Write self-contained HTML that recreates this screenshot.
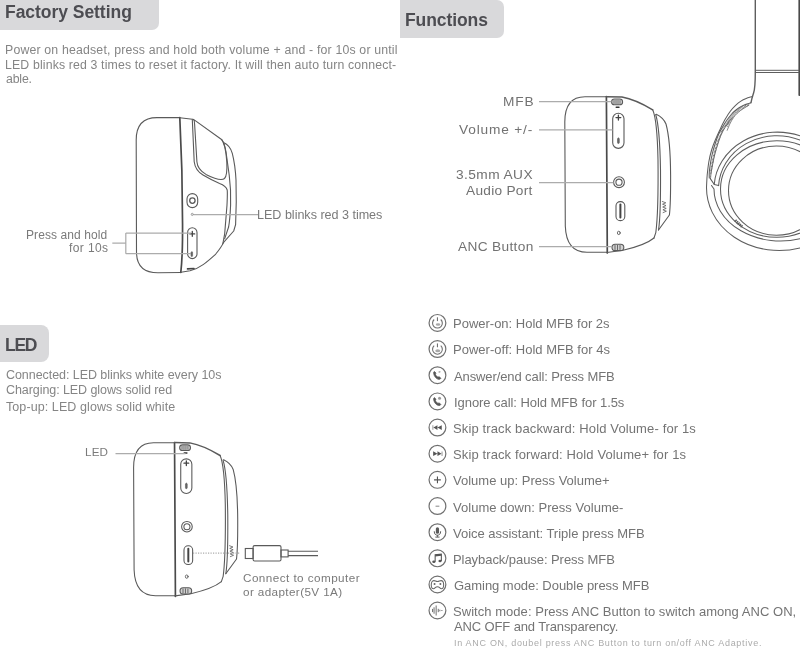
<!DOCTYPE html>
<html><head><meta charset="utf-8">
<style>
html,body{margin:0;padding:0;background:#fff;}
body{width:800px;height:662px;position:relative;overflow:hidden;font-family:"Liberation Sans",sans-serif;-webkit-font-smoothing:antialiased;}
.t,.hdt{will-change:transform;}
.t{position:absolute;white-space:nowrap;line-height:1;}
.hd{position:absolute;background:#d9d9db;}
.hdt{position:absolute;white-space:nowrap;line-height:1;font-weight:bold;font-size:17.5px;color:#4d4d52;}
.p{font-size:12px;color:#7c7c7c;}
.lb{font-size:12px;color:#6a6a6a;}
.lb13{font-size:13px;color:#6a6a6a;}
.fn{font-size:13px;color:#727272;}
svg{position:absolute;left:0;top:0;}
</style></head><body>
<!-- headers -->
<div class="hd" style="left:0;top:0;width:158.5px;height:29.5px;border-bottom-right-radius:7px;"></div>
<div class="hdt" style="left:5px;top:4.2px;letter-spacing:-0.04px;">Factory Setting</div>
<div class="hd" style="left:400px;top:0;width:104px;height:38px;border-radius:0 7px 7px 0;"></div>
<div class="hdt" style="left:405px;top:11.9px;letter-spacing:-0.09px;">Functions</div>
<div class="hd" style="left:0;top:325px;width:49px;height:37px;border-radius:0 8px 8px 0;"></div>
<div class="hdt" style="left:5px;top:336.7px;letter-spacing:-1.3px;">LED</div>

<div class="t" style="left:5.0px;top:43.5px;font-size:12.3px;letter-spacing:0.178px;color:#858585">Power on headset, press and hold both volume + and - for 10s or until</div>
<div class="t" style="left:5.0px;top:58.5px;font-size:12.3px;letter-spacing:0.145px;color:#858585">LED blinks red 3 times to reset it factory. It will then auto turn connect-</div>
<div class="t" style="left:5.5px;top:73.4px;font-size:12.3px;letter-spacing:-0.175px;color:#858585">able.</div>
<div class="t" style="left:5.6px;top:368.5px;font-size:12.5px;letter-spacing:-0.057px;color:#858585">Connected: LED blinks white every 10s</div>
<div class="t" style="left:5.6px;top:384.4px;font-size:12.5px;letter-spacing:-0.073px;color:#858585">Charging: LED glows solid red</div>
<div class="t" style="left:5.6px;top:400.8px;font-size:12.5px;letter-spacing:0.086px;color:#858585">Top-up: LED glows solid white</div>
<div class="t" style="left:25.9px;top:228.7px;font-size:12px;letter-spacing:0.092px;color:#7a7a7a">Press and hold</div>
<div class="t" style="left:69px;top:242.2px;font-size:12px;letter-spacing:0.4px;color:#7a7a7a">for 10s</div>
<div class="t" style="left:257.3px;top:209.0px;font-size:12.6px;letter-spacing:-0.029px;color:#7a7a7a">LED blinks red 3 times</div>
<div class="t" style="left:502.75px;top:95.0px;font-size:13.7px;letter-spacing:0.875px;color:#727272">MFB</div>
<div class="t" style="left:458.8px;top:122.9px;font-size:13.7px;letter-spacing:0.833px;color:#727272">Volume +/-</div>
<div class="t" style="left:456.2px;top:168.0px;font-size:13.7px;letter-spacing:0.438px;color:#727272">3.5mm AUX</div>
<div class="t" style="left:465.9px;top:183.5px;font-size:13.7px;letter-spacing:0.267px;color:#727272">Audio Port</div>
<div class="t" style="left:457.7px;top:240.2px;font-size:13.7px;letter-spacing:0.333px;color:#727272">ANC Button</div>
<div class="t" style="left:84.7px;top:445.7px;font-size:11.7px;letter-spacing:0.15px;color:#7a7a7a">LED</div>
<div class="t" style="left:243.3px;top:572.4px;font-size:11.7px;letter-spacing:0.45px;color:#7a7a7a">Connect to computer</div>
<div class="t" style="left:243.3px;top:585.7px;font-size:11.7px;letter-spacing:0.387px;color:#7a7a7a">or adapter(5V 1A)</div>
<div class="t" style="left:453.1px;top:316.85px;font-size:13px;letter-spacing:-0.008px;color:#747474">Power-on: Hold MFB for 2s</div>
<div class="t" style="left:453.1px;top:343.1px;font-size:13px;letter-spacing:0.016px;color:#747474">Power-off: Hold MFB for 4s</div>
<div class="t" style="left:453.6px;top:369.6px;font-size:13px;letter-spacing:-0.104px;color:#747474">Answer/end call: Press MFB</div>
<div class="t" style="left:453.5px;top:395.5px;font-size:13px;letter-spacing:-0.055px;color:#747474">Ignore call: Hold MFB for 1.5s</div>
<div class="t" style="left:453.1px;top:421.85px;font-size:13px;letter-spacing:0.131px;color:#747474">Skip track backward: Hold Volume- for 1s</div>
<div class="t" style="left:453.1px;top:448.05px;font-size:13px;letter-spacing:0.113px;color:#747474">Skip track forward: Hold Volume+ for 1s</div>
<div class="t" style="left:453.1px;top:474.4px;font-size:13px;letter-spacing:0.009px;color:#747474">Volume up: Press Volume+</div>
<div class="t" style="left:453.1px;top:500.6px;font-size:13px;letter-spacing:0.02px;color:#747474">Volume down: Press Volume-</div>
<div class="t" style="left:453.1px;top:526.9px;font-size:13px;letter-spacing:-0.016px;color:#747474">Voice assistant: Triple press MFB</div>
<div class="t" style="left:453.1px;top:553.05px;font-size:13px;letter-spacing:-0.062px;color:#747474">Playback/pause: Press MFB</div>
<div class="t" style="left:454.1px;top:579.35px;font-size:13px;letter-spacing:-0.039px;color:#747474">Gaming mode: Double press MFB</div>
<div class="t" style="left:453.1px;top:604.7px;font-size:13px;letter-spacing:0.042px;color:#747474">Switch mode: Press ANC Button to switch among ANC ON,</div>
<div class="t" style="left:453.6px;top:620.25px;font-size:13px;letter-spacing:-0.125px;color:#747474">ANC OFF and Transparency.</div>
<div class="t" style="left:453.6px;top:638.6px;font-size:9px;letter-spacing:0.7px;color:#ababab">In ANC ON, doubel press ANC Button to turn on/off ANC Adaptive.</div>

<svg width="800" height="662" viewBox="0 0 800 662">
<defs>
<g id="cup" fill="none" stroke="#5a5a5a" stroke-width="1.1" stroke-linecap="round" stroke-linejoin="round">
 <path d="M606.5 96.8 H585 C572 96.8 564.8 105 564.8 122 L565.3 226 C565.9 244 573 252.3 587 252.3 H606.8"/>
 <path d="M606.4 96.6 L607.3 253" stroke-width="1.7" stroke="#4a4a4a"/>
 <path d="M606.5 96.7 L622 97 C633 99 643 104 652.7 109.8" stroke-width="1.5"/>
 <path d="M652.7 109.8 C655.5 116 657.5 135 658 160 C658.3 190 657.5 220 655.8 232.6 L654 238"/>
 <path d="M655.7 114.5 C658 122 660 140 660.5 170 C660.7 200 660.2 220 658.5 230"/>
 <path d="M656.3 114.2 C660 116 664 119 666 124 C669 135 670.5 155 670.6 175 C670.7 195 670 210 669.4 215 L658.5 230"/>
 <path d="M607 252.5 L623 250.3 C635 247.5 648 243 654 238"/>
 <rect x="611.6" y="99" width="11" height="5.8" rx="2.9" fill="#d2d2d2"/>
 <path d="M614 100.5 V103.5 M616 100.3 V103.8 M618 100.3 V103.8 M620 100.5 V103.5" stroke-width="0.8"/>
 <path d="M616.2 107.3 H619" stroke-width="1.4" stroke="#333"/>
 <rect x="612.7" y="113.2" width="11.3" height="35.2" rx="5.6"/>
 <path d="M618.4 115.2 V120 M616 117.6 H620.8" stroke-width="1.3" stroke="#444"/>
 <rect x="617.5" y="138" width="1.8" height="5.5" rx="0.9" fill="#666" stroke-width="0.6"/>
 <circle cx="619" cy="182.2" r="5.4"/>
 <circle cx="619" cy="182.2" r="3.1"/>
 <rect x="616" y="201.6" width="8.8" height="19" rx="4.2"/>
 <path d="M620.4 204.5 V217.5" stroke-width="2" stroke="#444"/>
 <ellipse cx="618.8" cy="232.9" rx="1.4" ry="1.7" stroke-width="0.9"/>
 <rect x="612" y="244.2" width="11.8" height="6.4" rx="3.1" fill="#d2d2d2"/>
 <path d="M615 245.5 V249.5 M617.5 245.3 V249.8 M620 245.5 V249.5" stroke-width="0.9"/>
 <path d="M662.3 201.5 L665.8 202.8 L662.5 204.2 L666 205.6 L662.7 207 L666.2 208.4 L662.9 209.8 L666.4 211.2 L663.1 212.6" stroke-width="0.8"/>
</g>
</defs>

<!-- Functions earcup -->
<use href="#cup"/>
<!-- LED earcup -->
<use href="#cup" transform="matrix(0.984 0 0 0.984 -422.16 347.45)"/>

<!-- Factory earcup -->
<g fill="none" stroke="#5a5a5a" stroke-width="1.1" stroke-linecap="round" stroke-linejoin="round">
 <path d="M179.8 117.6 L157 117.6 C144 117.6 136.2 124 136.2 140 L136.5 252 C136.5 266 143 272.8 158 272.8 L181 272.5"/>
 <path d="M179.8 117.6 C181.5 150 182.8 200 182.5 240 C182.3 258 181.5 266 180.8 272.5" stroke-width="1.7" stroke="#4a4a4a"/>
 <path d="M179.8 117.8 L192.5 119.2"/>
 <path d="M193.5 119.4 L221.2 139.2 C224 142 226 150 226.8 162 C227.3 172 227 176 224.5 178.5 C222 180.5 215 179 206 174.4 C199.5 170.5 197.2 166 196.9 161.7 L194.6 124 C194.5 121 194 120 193.5 119.4 Z"/>
 <path d="M192.3 119.4 L194.2 161.7 C195 168 198.5 172.3 203 175 C208 178 214 181 219.6 183.4 C223.5 184.8 226.2 186.5 227.2 190 C227.6 193 227.3 198 227 205 L224.7 233.6 L222.8 244"/>
 <path d="M221.7 139.5 C224 142 225 146 226 152 L229.2 175 C230.5 185 231 195 230.6 205 C230.2 215 229.5 222 228.6 227 L224.7 238.7"/>
 <path d="M223.5 142.5 C227 144 230.5 147 232.3 153.3 C234 160 235.5 170 236 180 C236.5 195 236.3 210 235.6 224.6 L233.7 231 L223.4 242.6"/>
 <path d="M181 272.3 L190 270.8 C200 268.5 208 261 215.7 254.1 C219 250 221.5 247 223.4 242.6"/>
 <rect x="187" y="193.6" width="10.7" height="14" rx="5.35"/>
 <circle cx="192.4" cy="200.6" r="2.7" stroke-width="1.3"/>
 <circle cx="192.3" cy="214.4" r="1.1" stroke-width="0.8" stroke="#888"/>
 <rect x="187.6" y="227.8" width="9.4" height="30.8" rx="4.7"/>
 <path d="M192.3 231.5 V236.3 M189.9 233.9 H194.7" stroke-width="1.3" stroke="#444"/>
 <rect x="191" y="251.8" width="1.6" height="4.8" rx="0.8" fill="#666" stroke-width="0.6"/>
 <path d="M187.5 268.9 L194 268.5" stroke-width="1.6" stroke="#444"/>
</g>
<!-- Factory callouts -->
<g fill="none" stroke="#acacac" stroke-width="1.25">
 <path d="M193.5 214.6 H258"/>
 <path d="M112.3 243 H125.8 M125.8 233 V253.8 M125.8 233 H191 M125.8 253.5 H191"/>
</g>
<!-- Functions callouts -->
<g fill="none" stroke="#acacac" stroke-width="1.25">
 <path d="M539 101.5 H611.5"/>
 <path d="M539 129.8 H612.5"/>
 <path d="M539 182.5 H613.5"/>
 <path d="M539 246.7 H612"/>
</g>
<!-- LED callouts -->
<g fill="none" stroke="#acacac" stroke-width="1.25">
 <path d="M115.5 453.6 H185.5"/>
 <path d="M193 553.2 H240.5" stroke-dasharray="1.2 1.3"/>
</g>
<!-- USB cable -->
<g fill="none" stroke="#5a5a5a" stroke-width="1.1">
 <rect x="245.3" y="548.5" width="7.8" height="10"/>
 <rect x="253.1" y="545.6" width="27.9" height="15.4" rx="1.5"/>
 <rect x="281" y="550" width="7.1" height="6.9"/>
 <path d="M288 551.3 H318 M288 555.6 H318"/>
</g>

<!-- Big headphone -->
<g fill="none" stroke="#5e5e5e" stroke-width="1.05" stroke-linecap="round" stroke-linejoin="round">
 <path d="M755.3 0 V72 C755.3 84 754.6 90 753.6 93 C753 95 752 97 751 102.7" stroke-width="1.4"/>
 <path d="M799.3 0 V95" stroke-width="1.8" stroke="#4a4a4a"/>
 <path d="M755.3 70.3 H799 M755.3 72.5 H799" stroke-width="1"/>
 <path d="M752.5 96.4 C751.5 96.8 748.1 97.7 746.2 98.5 C744.3 99.3 742.7 100.0 740.9 101.1 C739.1 102.2 737.4 103.6 735.6 105.3 C733.8 107.0 732.1 108.8 730.3 111.2 C728.5 113.6 726.8 116.5 725.0 119.6 C723.2 122.7 721.4 126.6 719.8 130.0 C718.2 133.4 716.7 136.7 715.3 140.0 C713.9 143.3 712.7 146.3 711.6 150.0 C710.5 153.7 709.5 157.8 708.8 162.0 C708.1 166.2 707.6 171.2 707.2 175.0 C706.8 178.8 706.7 183.3 706.6 185.0 A72.7 62.5 0 0 0 800 247.9"/>
 <path d="M750.8 102.7 C750.0 103.0 747.7 103.6 746.0 104.3 C744.3 105.0 742.5 105.8 740.8 106.7 C739.1 107.7 737.5 108.8 736.0 110.0 C734.5 111.2 733.2 112.3 731.7 114.0 C730.2 115.7 728.5 117.9 727.0 120.0 C725.5 122.1 724.1 124.3 722.7 126.7 C721.3 129.1 719.7 131.8 718.5 134.5 C717.3 137.2 716.4 139.9 715.4 143.0 C714.4 146.1 713.3 149.7 712.5 153.0 C711.7 156.3 711.0 159.8 710.5 163.0 C710.0 166.2 709.5 169.5 709.3 172.0 C709.1 174.5 709.3 177.0 709.3 178.0"/>
 <path d="M749.0 105.0 C748.3 105.4 746.4 106.7 745.0 107.6 C743.6 108.5 742.1 109.3 740.8 110.3 C739.5 111.3 738.2 112.3 737.0 113.5 C735.8 114.7 734.6 116.0 733.5 117.6 C732.4 119.2 731.3 120.9 730.3 123.0 C729.2 125.1 727.7 129.1 727.2 130.3" stroke-width="0.9" stroke="#777"/>
 <path d="M733.0 117.5 C732.3 118.2 730.3 120.0 729.0 121.7 C727.7 123.4 726.3 125.3 725.0 127.5 C723.7 129.7 722.2 132.1 721.0 134.8 C719.8 137.5 719.0 140.4 718.0 143.5 C717.0 146.6 715.9 150.2 715.0 153.5 C714.1 156.8 713.4 160.4 712.8 163.5 C712.2 166.6 711.6 169.5 711.2 172.0 C710.8 174.5 710.6 177.5 710.5 178.6" stroke-width="0.9"/>
 <path d="M748.5 104.4 C747.8 104.8 745.3 105.9 744.0 106.6 C742.7 107.3 742.0 107.6 740.8 108.5 C739.5 109.4 737.9 110.5 736.5 111.8 C735.1 113.0 733.8 114.5 732.5 116.0 C731.2 117.5 730.0 119.2 729.0 121.0 C728.0 122.8 726.7 125.6 726.2 126.5" stroke-width="2.8" stroke="#666" stroke-dasharray="0.7 0.7" stroke-linecap="butt"/>
 <path d="M726.0 124.0 C725.4 125.1 723.6 128.2 722.5 130.5 C721.4 132.8 720.6 135.1 719.6 137.5 C718.6 139.9 717.7 142.1 716.8 145.0 C715.9 147.9 714.8 151.7 714.0 155.0 C713.2 158.3 712.6 161.8 712.0 165.0 C711.4 168.2 710.8 172.5 710.6 174.0" stroke-width="1.8" stroke="#666" stroke-dasharray="0.7 0.7" stroke-linecap="butt"/>
 <path d="M710.3 178.6 L714.3 184.5 L718.6 185.6"/>
 <path d="M800 135.8 A63.4 56.4 0 0 0 714.2 184.5"/>
 <path d="M800 140.0 A58.4 52.8 0 0 0 718.6 185.6"/>
 <path d="M711.5 185.5 L714.0 189 A66.5 52 0 0 0 800 238.7"/>
 <ellipse cx="776.8" cy="189" rx="56.3" ry="48.3"/>
 <ellipse cx="776.4" cy="190.6" rx="47.9" ry="44.6"/>
 <path d="M735.2 220.4 L742.2 226.8" stroke-width="2.8" stroke="#5a5a5a" stroke-dasharray="1.3 0.7" stroke-linecap="butt"/>
</g>
</svg>

<!-- icons -->
<svg width="800" height="662" viewBox="0 0 800 662">
<g fill="none" stroke="#707070" stroke-width="1.2" stroke-linecap="round" stroke-linejoin="round">
<circle cx="437.45" cy="322.90" r="8.4"/>
<circle cx="437.45" cy="349.06" r="8.4"/>
<circle cx="437.45" cy="375.22" r="8.4"/>
<circle cx="437.45" cy="401.38" r="8.4"/>
<circle cx="437.45" cy="427.54" r="8.4"/>
<circle cx="437.45" cy="453.70" r="8.4"/>
<circle cx="437.45" cy="479.86" r="8.4"/>
<circle cx="437.45" cy="506.02" r="8.4"/>
<circle cx="437.45" cy="532.18" r="8.4"/>
<circle cx="437.45" cy="558.34" r="8.4"/>
<circle cx="437.45" cy="584.50" r="8.4"/>
<circle cx="437.45" cy="610.50" r="8.4"/>
</g>
<g transform="translate(437.45 322.90)"><path d="M-3.3 -3.4 A4.9 4.9 0 1 0 3.3 -3.4" fill="none" stroke="#707070" stroke-width="1.1"/><path d="M0 -5.6 V-1.8" stroke="#707070" stroke-width="1.1"/><ellipse cx="0.6" cy="1.6" rx="2.3" ry="1.3" fill="#a8a8a8"/></g>
<g transform="translate(437.45 349.06)"><path d="M-3.3 -3.4 A4.9 4.9 0 1 0 3.3 -3.4" fill="none" stroke="#707070" stroke-width="1.1"/><path d="M0 -5.6 V-1.8" stroke="#707070" stroke-width="1.1"/><ellipse cx="0.3" cy="1.6" rx="2.5" ry="1.5" fill="#a8a8a8"/></g>
<g transform="translate(437.45 375.22)"><path d="M-3.8 -3 C-4.1 -1 -2.8 1.8 -0.7 3.4 C0.6 4.3 1.9 4.4 2.8 3.8 L3.4 3.1 L1.7 1.4 L0.6 2.1 C-0.7 1.4 -1.7 0.2 -2.1 -1.1 L-1.4 -2.1 L-3.1 -3.8 Z" fill="#555" stroke="#555" stroke-width="0.7"/><path d="M1.8 -4 L2.2 -2.6 M1 -3.1 L3.1 -3.5" stroke="#999" stroke-width="0.8"/></g>
<g transform="translate(437.45 401.38)"><path d="M-3.8 -3 C-4.1 -1 -2.8 1.8 -0.7 3.4 C0.6 4.3 1.9 4.4 2.8 3.8 L3.4 3.1 L1.7 1.4 L0.6 2.1 C-0.7 1.4 -1.7 0.2 -2.1 -1.1 L-1.4 -2.1 L-3.1 -3.8 Z" fill="#555" stroke="#555" stroke-width="0.7"/><circle cx="2.1" cy="-3.1" r="1.5" fill="#999"/></g>
<g transform="translate(437.45 427.54)"><path d="M-4.6 -2.3 V2.3" stroke="#aaa" stroke-width="1.2"/><path d="M-4.1 0 L0 -2.4 V2.4 Z M0 0 L4.3 -2.4 V2.4 Z" fill="#555"/></g>
<g transform="translate(437.45 453.70)"><path d="M4.6 -2.3 V2.3" stroke="#aaa" stroke-width="1.2"/><path d="M4.1 0 L0 -2.4 V2.4 Z M0 0 L-4.3 -2.4 V2.4 Z" fill="#555"/></g>
<g transform="translate(437.45 479.86)"><path d="M0 -3.4 V3.4 M-3.4 0 H3.4" stroke="#555" stroke-width="1.1"/></g>
<g transform="translate(437.45 506.02)"><path d="M-1.9 0.2 H1.9" stroke="#999" stroke-width="1.2"/></g>
<g transform="translate(437.45 532.18)"><rect x="-1.6" y="-5" width="3.2" height="6.6" rx="1.6" fill="#5a5a5a"/><path d="M-3.2 -0.9 C-3.2 2 -1.7 3 0 3 C1.7 3 3.2 2 3.2 -0.9 M0 3 V4.7 M-2.1 4.9 H2.1" fill="none" stroke="#5a5a5a" stroke-width="1"/></g>
<g transform="translate(437.45 558.34)"><path d="M-2.3 3.3 V-3.6 L3.9 -4.2 V2.6" fill="none" stroke="#555" stroke-width="1.05"/><path d="M-2.3 -3.6 L3.9 -4.2 V-2.5 L-2.3 -1.9 Z" fill="#555"/><ellipse cx="-3.6" cy="3.4" rx="1.6" ry="1.2" fill="#555"/><ellipse cx="2.6" cy="2.7" rx="1.6" ry="1.2" fill="#555"/></g>
<g transform="translate(437.45 584.50)"><path d="M-3.6 -3.9 C-2.2 -3.9 -1.6 -3 0 -3 C1.6 -3 2.2 -3.9 3.6 -3.9 C5.4 -3.9 6.2 -2 6.2 0.6 C6.2 3.2 5.2 4.3 3.9 4.3 C2.6 4.3 2.1 2.2 0 2.2 C-2.1 2.2 -2.6 4.3 -3.9 4.3 C-5.2 4.3 -6.2 3.2 -6.2 0.6 C-6.2 -2 -5.4 -3.9 -3.6 -3.9 Z" fill="none" stroke="#666" stroke-width="1.05"/><circle cx="-2.9" cy="-0.6" r="1" fill="#666"/><circle cx="2.9" cy="-0.6" r="1" fill="#666"/></g>
<g transform="translate(437.45 610.50)"><path d="M-4.9 -1.6 V1.6 M-3.4 -3.2 V3.2 M-1.3 -5 V5 M0.8 -1.7 V1.7 M2.4 -0.8 V0.8 M3.9 0 H5" fill="none" stroke="#666" stroke-width="0.95"/></g>
</svg>
</body></html>
